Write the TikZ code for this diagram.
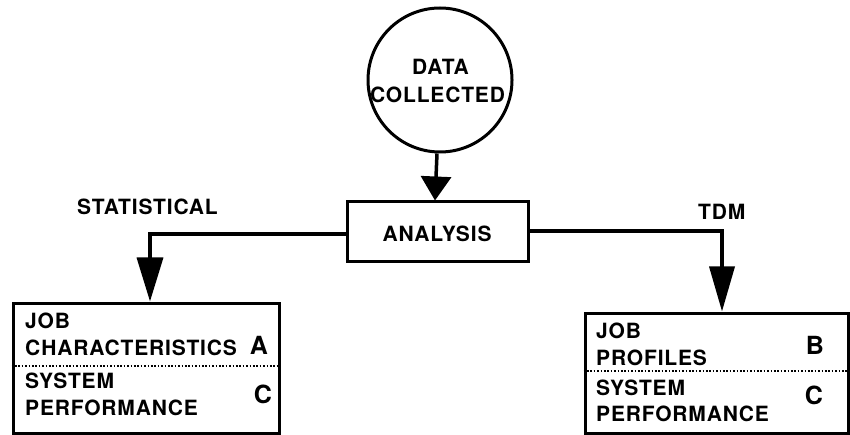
\documentclass[tikz,border=0pt]{standalone}
\usepackage{fontspec}
\setmainfont{TeX Gyre Heros}[LetterSpace=4]
\usetikzlibrary{arrows.meta,calc}
\begin{document}
\begin{tikzpicture}[x=1pt,y=-1pt,
  lbl/.style={font=\fontsize{21}{25}\selectfont\bfseries, inner sep=0pt, anchor=base},
  lblw/.style={lbl, anchor=base west},
  big/.style={lbl, font=\fontsize{25}{28}\selectfont\bfseries},
  boxr/.style={draw, line width=3pt, rectangle, inner sep=0pt},
  conn/.style={line width=3.5pt, -{Triangle[length=44pt,width=26pt]}},
  dotsep/.style={line width=2.2pt, dash pattern=on 1.6pt off 1.8pt}
]
\useasboundingbox (0,0) rectangle (850,435);
% nodes
\node[draw, circle, line width=3pt, minimum size=144pt, inner sep=0pt] (data) at (440,80) {};
\node[boxr, minimum width=181pt, minimum height=60pt] (ana) at (437.5,232) {};
\node[boxr, minimum width=266pt, minimum height=130pt] (lbox) at (146,368) {};
\node[boxr, minimum width=263pt, minimum height=120pt] (rbox) at (716.5,373) {};
% texts
\node[lbl] (t1) at (440.5,75) {DATA};
\node[lbl] (t2) at (437.5,103) {COLLECTED};
\node[lbl] (t3) at (437,242) {ANALYSIS};
\node[lblw] (t4) at (77,215) {STATISTICAL};
\node[lblw] (t5) at (698,220) {TDM};
\node[lblw] (a1) at (25,328.5) {JOB};
\node[lblw] (a2) at (25,355) {CHARACTERISTICS};
\node[lblw] (a3) at (25,388) {SYSTEM};
\node[lblw] (a4) at (25,415) {PERFORMANCE};
\node[big] (aA) at (259,354) {A};
\node[big] (aC) at (263,403) {C};
\node[big] (bB) at (815,354) {B};
\node[big] (bC) at (814,404) {C};
\node[lblw] (b1) at (596,338) {JOB};
\node[lblw] (b2) at (596,365) {PROFILES};
\node[lblw] (b3) at (596,395) {SYSTEM};
\node[lblw] (b4) at (596,421) {PERFORMANCE};
% dotted separators
\draw[dotsep] (lbox.west |- 0,366) -- (lbox.east |- 0,366);
\draw[dotsep] (rbox.west |- 0,371) -- (rbox.east |- 0,371);
% connectors
\draw[line width=3.5pt, -{Triangle[length=24pt,width=30pt]}] ([xshift=-3pt]data.south) -- ([xshift=-2.5pt]ana.north);
\draw[conn] ([yshift=-2pt]ana.west) -| ([xshift=4pt]lbox.north);
\draw[conn, -{Triangle[length=45pt,width=25pt]}] ([yshift=1pt]ana.east) -| ([xshift=5.5pt]rbox.north);
\end{tikzpicture}
\end{document}
